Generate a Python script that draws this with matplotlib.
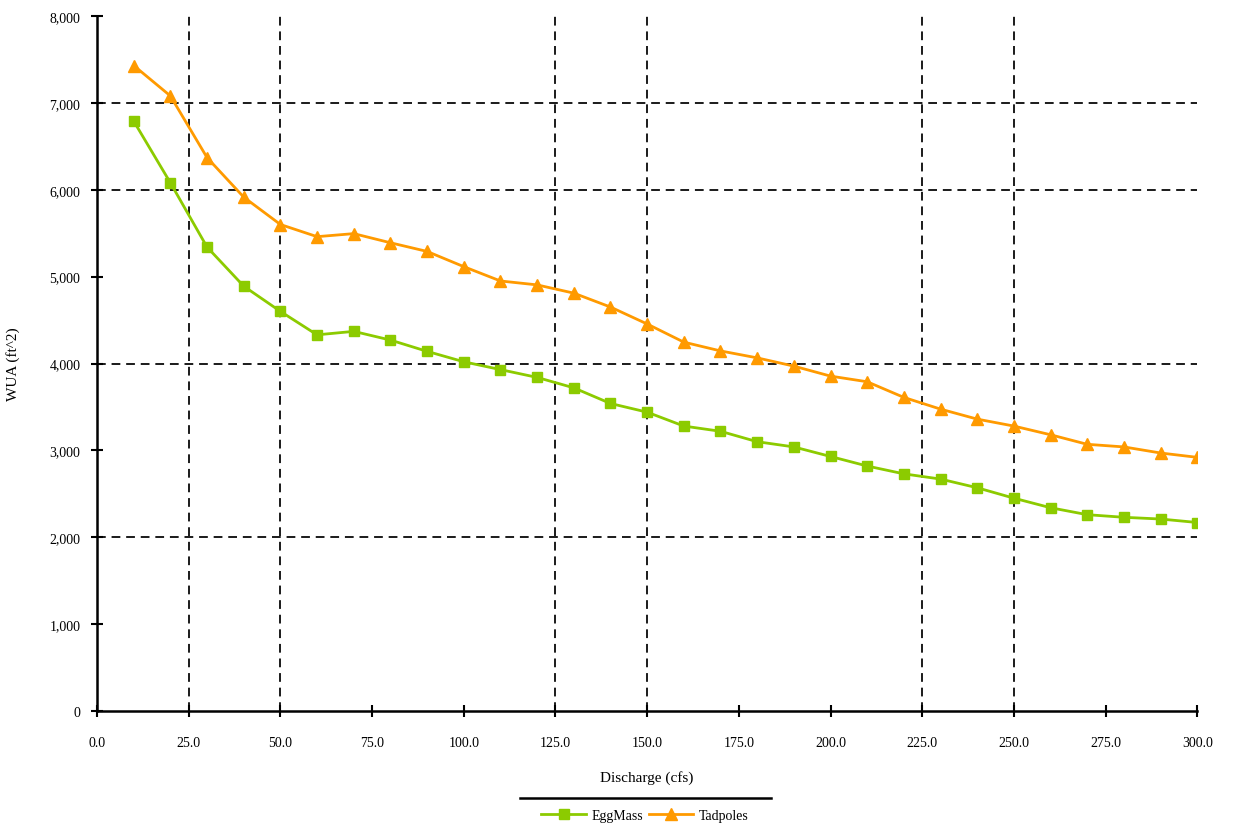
import matplotlib
matplotlib.use("Agg")
import matplotlib.pyplot as plt
from matplotlib.lines import Line2D

plt.rcParams['font.family'] = ['Liberation Serif', 'DejaVu Serif']

discharge = [10, 20, 30, 40, 50, 60, 70, 80, 90, 100, 110, 120, 130, 140, 150,
             160, 170, 180, 190, 200, 210, 220, 230, 240, 250, 260, 270, 280, 290, 300]
egg_mass = [6790, 6080, 5340, 4890, 4600, 4330, 4370, 4270, 4140, 4020, 3930, 3840, 3720, 3540, 3440,
            3280, 3220, 3100, 3040, 2930, 2820, 2730, 2670, 2570, 2450, 2340, 2260, 2230, 2210, 2170]
tadpoles = [7430, 7080, 6370, 5915, 5600, 5460, 5495, 5390, 5290, 5115, 4950, 4905, 4810, 4650, 4455,
            4246, 4145, 4065, 3970, 3855, 3790, 3610, 3475, 3360, 3280, 3180, 3070, 3040, 2970, 2920]
series_names = ["EggMass", "Tadpoles"]

x_ticks = [0, 25, 50, 75, 100, 125, 150, 175, 200, 225, 250, 275, 300]
y_ticks = [0, 1000, 2000, 3000, 4000, 5000, 6000, 7000, 8000]
x_grid = [25, 50, 125, 150, 225, 250]
y_grid = [2000, 4000, 6000, 7000]

fig = plt.figure(figsize=(12.33, 8.29), dpi=100)
ax = fig.add_axes([0.0787, 0.1411, 0.8923, 0.8384])

grid_style = dict(color='#1a1a1a', lw=1.4, linestyle=(0, (4.5, 3)), zorder=1)
for gx in x_grid:
    ax.axvline(gx, **grid_style)
for gy in y_grid:
    ax.axhline(gy, **grid_style)

green = '#8ccb00'
orange = '#ff9a00'
ax.plot(discharge, egg_mass, color=green, lw=2, marker='s', markersize=7,
        label=series_names[0], zorder=3)
ax.plot(discharge, tadpoles, color=orange, lw=2, marker='^', markersize=9,
        label=series_names[1], zorder=3)

ax.set_xlim(0, 300)
ax.set_ylim(0, 8000)
ax.set_xticks(x_ticks)
ax.set_xticklabels([f"{v:.1f}" for v in x_ticks])
ax.set_yticks(y_ticks)
ax.set_yticklabels([f"{v:,}" for v in y_ticks])

for side in ['top', 'right']:
    ax.spines[side].set_visible(False)
for side in ['left', 'bottom']:
    ax.spines[side].set_linewidth(1.8)
    ax.spines[side].set_color('black')

ax.tick_params(axis='both', direction='inout', length=8, width=1.5,
               labelsize=10, colors='black')
ax.tick_params(axis='x', pad=14)
ax.tick_params(axis='y', pad=8)

ax.set_xlabel("Discharge (cfs)", fontsize=11)
ax.xaxis.set_label_coords(0.5, -0.085)
ax.set_ylabel("WUA (ft^2)", fontsize=11)
ax.yaxis.set_label_coords(-0.07, 0.5)

leg = fig.legend(loc='center', bbox_to_anchor=(0.523, 0.015), ncol=2, frameon=False,
                 fontsize=10, handlelength=3.2, handletextpad=0.4, columnspacing=0.4,
                 borderaxespad=0)
fig.add_artist(Line2D([0.422, 0.625], [0.036, 0.036], transform=fig.transFigure,
                      color='black', lw=1.8))

fig.savefig("out.png", dpi=100)
